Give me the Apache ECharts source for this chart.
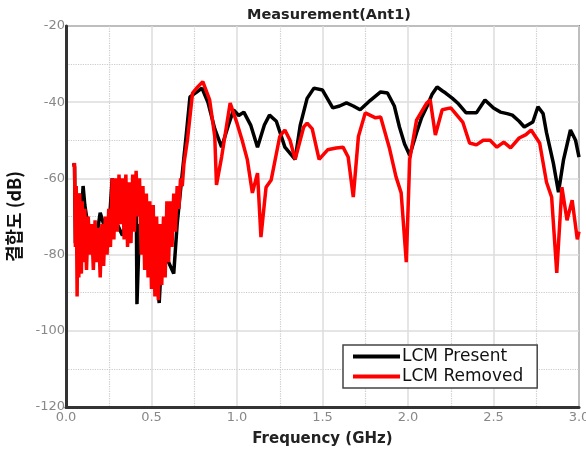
<!DOCTYPE html>
<html>
<head>
<meta charset="utf-8">
<script src="https://cdn.jsdelivr.net/npm/echarts@6/dist/echarts.min.js"></script>
<style>
html,body{margin:0;padding:0;background:#fff;}
#chart{width:586px;height:456px;}
</style>
</head>
<body>
<div id="chart"></div>
<script>
// LCM Present (black)
var presentFreq = [0.045,0.05,0.055,0.06,0.07,0.08,0.09,0.1,0.11,0.12,0.14,0.17,0.2,0.22,0.25,0.27,0.3,0.33,0.36,0.39,0.41,0.415,0.43,0.47,0.5,0.53,0.545,0.56,0.6,0.63,0.65,0.67,
	0.7,0.725,0.76,0.795,0.83,0.87,0.91,0.95,0.98,1.01,1.04,1.08,1.12,1.16,1.19,1.23,1.28,1.34,1.37,1.41,1.45,1.5,1.56,1.6,1.64,1.68,1.72,1.78,1.84,1.88,1.92,1.95,1.98,2.01,2.05,2.08,2.11,2.14,2.17,2.2,2.22,2.26,2.29,2.34,2.4,2.45,2.5,2.54,2.58,2.61,2.65,2.68,2.73,2.76,2.79,2.81,2.85,2.88,2.91,2.95,2.98,3.0];
var presentDb = [-56,-57,-77,-70,-75,-64,-70,-62,-67,-70,-74,-78,-69,-72,-74,-60,-72,-75,-70,-68,-60,-93,-72,-76,-82,-85,-92.7,-80,-82,-85,-72,-63,
	-50,-38.6,-37.5,-36.3,-40,-47,-51.8,-46,-42,-43.5,-42.6,-46,-51.8,-46,-43.4,-45,-51.8,-55,-46,-39,-36.3,-36.8,-41.5,-41,-40.2,-41,-42,-39.5,-37.3,-37.6,-41,-46.5,-51,-53.9,-48,-44,-41.2,-38,-36,-37,-37.6,-39,-40.2,-42.8,-42.8,-39.4,-41.5,-42.6,-43,-43.4,-45,-46.5,-45.2,-41.2,-43,-48,-56,-63.6,-55,-47.3,-50,-54.4];
// LCM Removed (red)
var removedFreq = [0.045,0.05,0.055,0.06,0.065,0.07,0.075,0.08,0.09,0.095,0.1,0.11,0.12,0.13,0.14,0.15,0.16,0.17,0.18,0.19,0.2,0.21,0.22,0.23,0.24,0.25,0.26,0.27,0.28,0.29,0.3,0.31,0.32,0.33,0.34,0.35,0.36,0.37,0.38,0.39,0.4,0.41,0.42,0.43,0.44,0.45,0.46,0.47,0.48,0.49,0.5,0.51,0.52,0.53,0.54,0.55,0.56,0.57,0.58,0.59,0.6,0.61,0.62,0.63,0.64,0.65,0.66,0.67,0.68,0.69,0.71,
	0.74,0.77,0.8,0.84,0.87,0.88,0.91,0.96,1.0,1.03,1.06,1.09,1.12,1.14,1.17,1.2,1.25,1.28,1.31,1.34,1.39,1.41,1.44,1.48,1.53,1.58,1.62,1.65,1.68,1.71,1.75,1.81,1.84,1.89,1.93,1.96,1.99,2.01,2.05,2.11,2.13,2.16,2.2,2.25,2.32,2.36,2.4,2.44,2.48,2.52,2.56,2.6,2.65,2.69,2.72,2.77,2.81,2.84,2.87,2.9,2.93,2.96,2.99,3.0];
var removedDb = [-57,-56,-78,-62,-91,-66,-86,-64,-85,-66,-82,-68,-84,-70,-80,-72,-84,-71,-82,-73,-86,-72,-83,-70,-80,-68,-78,-60,-76,-60,-74,-59,-72,-60,-76,-59,-78,-61,-77,-59,-74,-58,-70,-60,-80,-62,-84,-64,-86,-66,-89,-67,-91,-70,-92,-72,-88,-70,-86,-66,-82,-66,-78,-64,-74,-62,-68,-60,-62,-56,-50,
	-37.6,-36,-34.6,-39.4,-49,-61.7,-54.4,-40.2,-45.5,-50,-55,-63.8,-58.6,-75.4,-62.3,-60.4,-49,-47.3,-50,-55,-46.5,-45.5,-47,-55,-52.5,-52,-51.8,-54.4,-64.9,-49,-42.8,-44.1,-43.9,-51.8,-59.6,-63.8,-82,-55,-44.7,-40.2,-39.4,-48.6,-42,-41.5,-45.2,-50.7,-51.2,-50,-50,-51.8,-50.5,-52,-49.4,-48.5,-47.3,-50.7,-61,-64.9,-84.8,-62.3,-71,-65.7,-76,-74];

var xTicks = [0,0.5,1.0,1.5,2.0,2.5,3.0];
var yTicks = [-120,-100,-80,-60,-40,-20];

function pairs(xs, ys){
	var out = [];
	for (var i = 0; i < xs.length; i++) out.push([xs[i], ys[i]]);
	return out;
}

var myChart = echarts.init(document.getElementById('chart'));
var option = {
	backgroundColor:'#fff',
	animation:false,
	title:{
		text:'Measurement(Ant1)',
		left:324, top:3, textAlign:'center',
		textStyle:{fontFamily:'DejaVu Sans', fontSize:14.5, fontWeight:'bold', color:'#222'}
	},
	grid:{left:66, right:7, top:26, bottom:49, containLabel:false, outerBoundsMode:'none',
		show:true, borderColor:'#333', borderWidth:1.5, backgroundColor:'#fff'},
	legend:{
		orient:'vertical', left:343, top:345,
		backgroundColor:'#fff', borderColor:'#444', borderWidth:1.5,
		padding:[3,14,3,10], itemGap:3,
		icon:'rect', itemWidth:47, itemHeight:4,
		textStyle:{fontFamily:'DejaVu Sans', fontSize:17, color:'#111', padding:[0,0,0,-3]},
		data:['LCM Present','LCM Removed']
	},
	xAxis:{
		type:'value', min:xTicks[0], max:xTicks[xTicks.length-1], interval:0.5,
		name:'Frequency (GHz)', nameLocation:'middle', nameGap:25,
		nameTextStyle:{fontFamily:'DejaVu Sans', fontSize:15, fontWeight:'bold', color:'#222'},
		axisLine:{show:true, onZero:false, lineStyle:{color:'#333', width:3}},
		axisTick:{show:false},
		axisLabel:{margin:4, color:'#888', fontFamily:'DejaVu Sans', fontSize:13, formatter:function(v){return v.toFixed(1);}},
		splitLine:{show:true, lineStyle:{color:'#ddd', width:1.5}},
		minorTick:{show:false, splitNumber:2},
		minorSplitLine:{show:true, lineStyle:{color:'#ccc', type:'dotted', width:1.2}}
	},
	yAxis:{
		type:'value', min:yTicks[0], max:yTicks[yTicks.length-1], interval:20,
		name:'결합도 (dB)', nameLocation:'middle', nameGap:43, nameRotate:90,
		nameTextStyle:{fontFamily:'Noto Sans CJK KR', fontSize:18, fontWeight:'bold', color:'#111'},
		axisLine:{show:true, onZero:false, lineStyle:{color:'#333', width:3}},
		axisTick:{show:false},
		axisLabel:{margin:1, color:'#888', fontFamily:'DejaVu Sans', fontSize:13},
		splitLine:{show:true, lineStyle:{color:'#ddd', width:1.5}},
		minorTick:{show:false, splitNumber:2},
		minorSplitLine:{show:true, lineStyle:{color:'#ccc', type:'dotted', width:1.2}}
	},
	series:[
		{name:'LCM Present', type:'line', showSymbol:false, symbol:'none', color:'#000',
			lineStyle:{color:'#000', width:3.5}, data:pairs(presentFreq, presentDb)},
		{name:'LCM Removed', type:'line', showSymbol:false, symbol:'none', color:'#f00',
			lineStyle:{color:'#f00', width:3.5}, data:pairs(removedFreq, removedDb)}
	]
};
myChart.setOption(option);
</script>
</body>
</html>
